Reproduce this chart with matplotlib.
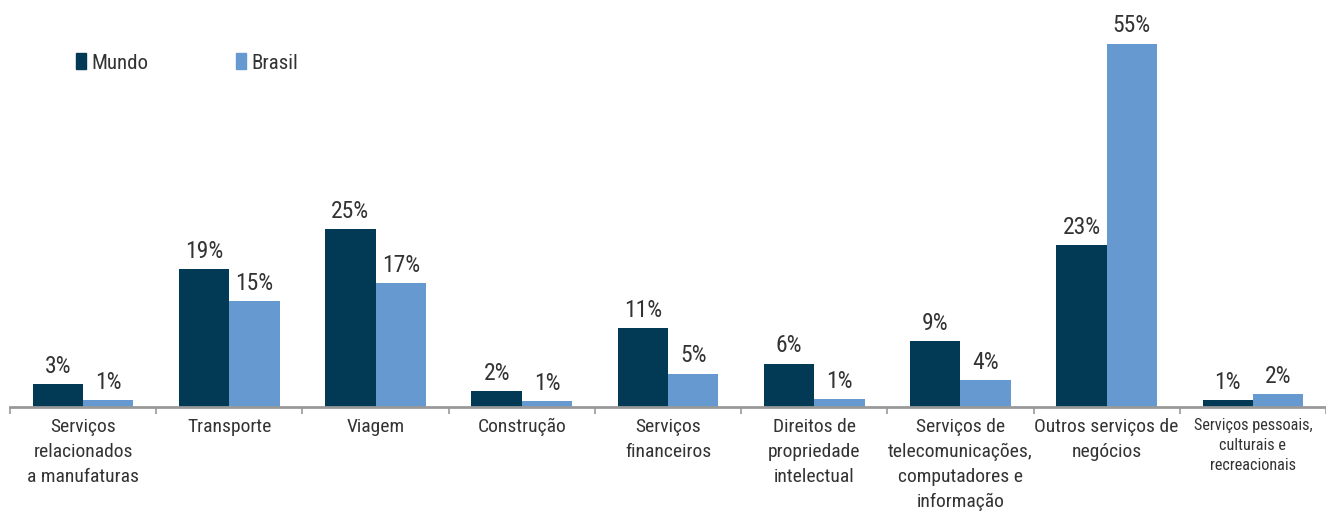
import matplotlib
matplotlib.use("Agg")
import matplotlib.pyplot as plt
import numpy as np
from matplotlib.patches import Patch
from matplotlib import font_manager as fm

categories = [
    "Serviços\nrelacionados\na manufaturas",
    "Transporte",
    "Viagem",
    "Construção",
    "Serviços\nfinanceiros",
    "Direitos de\npropriedade\nintelectual",
    "Serviços de\ntelecomunicações,\ncomputadores e\ninformação",
    "Outros serviços de\nnegócios",
    "Serviços pessoais,\nculturais e\nrecreacionais",
]
series_names = ["Mundo", "Brasil"]
# bar heights as drawn in the picture
mundo = [3.4, 20.8, 26.9, 2.35, 11.9, 6.5, 9.9, 24.4, 1.0]
brasil = [1.0, 16.0, 18.7, 0.83, 5.0, 1.1, 4.0, 55.0, 1.9]
# printed value labels
mundo_labels = ["3%", "19%", "25%", "2%", "11%", "6%", "9%", "23%", "1%"]
brasil_labels = ["1%", "15%", "17%", "1%", "5%", "1%", "4%", "55%", "2%"]

c_mundo = "#023a56"
c_brasil = "#6699d0"
txt = "#333333"
available = {f.name for f in fm.fontManager.ttflist}
cands = ["Roboto Condensed", "Arial Narrow", "Liberation Sans Narrow",
         "PT Sans Narrow", "Archivo Narrow"]
FONT = [c for c in cands if c in available] + ["DejaVu Sans"]
plt.rcParams["font.family"] = FONT

W, H = 1326, 512
fig = plt.figure(figsize=(W / 100, H / 100), dpi=100)
ax = fig.add_axes([10 / W, (H - 406.5) / H, (W - 10) / W, 406.5 / H])

x = np.arange(len(categories))
bw = 0.344
b1 = ax.bar(x - bw / 2, mundo, bw, color=c_mundo, label=series_names[0])
b2 = ax.bar(x + bw / 2, brasil, bw, color=c_brasil, label=series_names[1])

for bars, labs in ((b1, mundo_labels), (b2, brasil_labels)):
    for r, lab in zip(bars, labs):
        ax.annotate(lab, (r.get_x() + r.get_width() / 2, r.get_height()),
                    xytext=(0, 8), textcoords="offset points",
                    ha="center", va="baseline", fontsize=17, color=txt)

ax.set_xlim(-0.5, len(categories) - 0.5)
ax.set_ylim(0, 406.5 / 6.6)
for s in ("top", "right", "left"):
    ax.spines[s].set_visible(False)
ax.spines["bottom"].set_color("#999999")
ax.spines["bottom"].set_linewidth(2)
ax.set_yticks([])
ax.set_xticks(np.arange(len(categories) + 1) - 0.5)
ax.set_xticklabels([])
ax.tick_params(axis="x", length=5, width=1.2, color="#999999", direction="out")

for i, cat in enumerate(categories):
    fs = 11.7 if i == len(categories) - 1 else 14
    ls = 1.43 if i == len(categories) - 1 else 1.5
    ax.annotate(cat, (i, 0), xytext=(0, -8), textcoords="offset points",
                ha="center", va="top", fontsize=fs, color=txt,
                linespacing=ls, annotation_clip=False)

handles = [Patch(color=c_mundo), Patch(color=c_brasil)]
fig.legend(handles, series_names, loc="center left",
           bbox_to_anchor=(76 / W, 1 - 63 / H), ncol=2, frameon=False,
           fontsize=15, handlelength=0.48, handleheight=0.8,
           handletextpad=0.27, columnspacing=4.2, borderpad=0,
           borderaxespad=0, labelcolor=txt)

fig.savefig("out.png", dpi=100)
